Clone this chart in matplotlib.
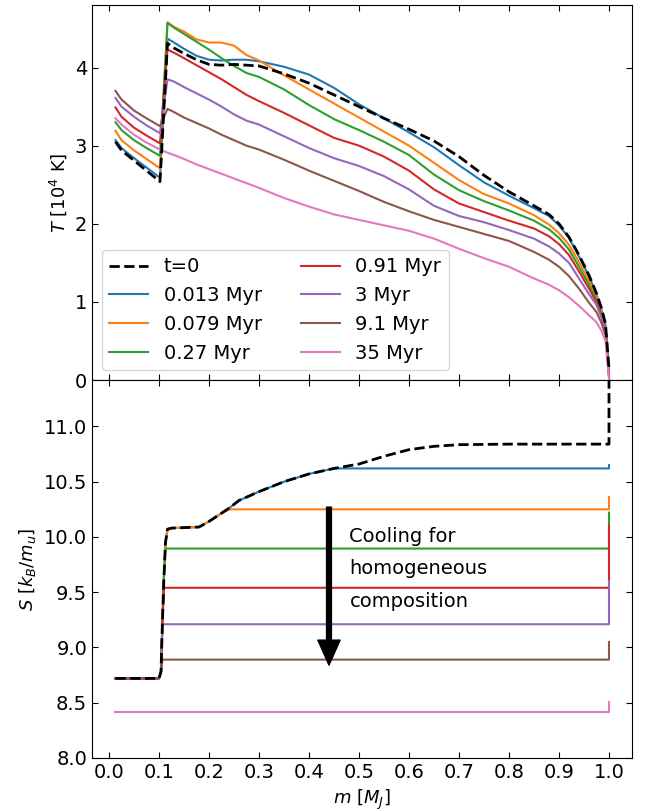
import matplotlib
matplotlib.use("Agg")
import matplotlib.pyplot as plt
import numpy as np

# ---- data ----
labels = ["0.013 Myr", "0.079 Myr", "0.27 Myr", "0.91 Myr", "3 Myr", "9.1 Myr", "35 Myr"]
colors = ["tab:blue", "tab:orange", "tab:green", "tab:red", "tab:purple", "tab:brown", "tab:pink"]

# temperature profiles, T in 10^4 K
m_T = [0.013, 0.025, 0.05, 0.075, 0.102,
       0.117, 0.13, 0.15, 0.175, 0.2, 0.225, 0.25, 0.275, 0.3,
       0.35, 0.4, 0.45, 0.5, 0.55, 0.6, 0.65,
       0.7, 0.75, 0.8,
       0.85, 0.88, 0.9, 0.92, 0.94, 0.96, 0.975, 0.985, 0.993, 1.0]

T_t0 = [3.05, 2.94, 2.81, 2.68, 2.54,
        4.31, 4.25, 4.18, 4.10, 4.04, 4.03, 4.04, 4.03, 4.02,
        3.92, 3.80, 3.65, 3.50, 3.35, 3.21, 3.06,
        2.86, 2.62, 2.41,
        2.23, 2.12, 2.00, 1.83, 1.60, 1.34, 1.11, 0.92, 0.72, 0.15]
T_0013 = [3.07, 2.97, 2.84, 2.72, 2.59,
          4.37, 4.32, 4.24, 4.15, 4.10, 4.09, 4.10, 4.10, 4.08,
          4.01, 3.91, 3.74, 3.53, 3.35, 3.17, 2.98,
          2.75, 2.53, 2.36,
          2.20, 2.10, 1.98, 1.82, 1.58, 1.33, 1.09, 0.90, 0.70, 0.10]
T_0079 = [3.19, 3.07, 2.94, 2.83, 2.71,
          4.58, 4.52, 4.46, 4.36, 4.32, 4.32, 4.28, 4.16, 4.09,
          3.90, 3.72, 3.54, 3.36, 3.18, 3.00, 2.78,
          2.56, 2.38, 2.26,
          2.11, 1.99, 1.88, 1.73, 1.51, 1.27, 1.06, 0.88, 0.68, 0.08]
T_027 = [3.30, 3.20, 3.07, 2.97, 2.87,
         4.57, 4.51, 4.43, 4.33, 4.23, 4.12, 4.02, 3.93, 3.88,
         3.72, 3.52, 3.34, 3.20, 3.05, 2.88, 2.63,
         2.43, 2.29, 2.17,
         2.04, 1.93, 1.82, 1.67, 1.45, 1.22, 1.02, 0.85, 0.66, 0.07]
T_091 = [3.49, 3.37, 3.23, 3.13, 3.03,
         4.23, 4.19, 4.12, 4.03, 3.94, 3.85, 3.75, 3.65, 3.57,
         3.42, 3.26, 3.10, 3.00, 2.86, 2.68, 2.44,
         2.26, 2.15, 2.04,
         1.94, 1.84, 1.74, 1.60, 1.39, 1.17, 1.00, 0.83, 0.65, 0.06]
T_3 = [3.61, 3.50, 3.37, 3.26, 3.16,
       3.85, 3.82, 3.75, 3.67, 3.59, 3.50, 3.40, 3.32, 3.27,
       3.12, 2.97, 2.84, 2.74, 2.61, 2.44, 2.23,
       2.10, 2.02, 1.92,
       1.81, 1.71, 1.62, 1.50, 1.30, 1.10, 0.96, 0.80, 0.63, 0.05]
T_91 = [3.70, 3.59, 3.45, 3.35, 3.25,
        3.47, 3.43, 3.36, 3.29, 3.22, 3.14, 3.07, 3.00, 2.95,
        2.82, 2.68, 2.55, 2.42, 2.28, 2.16, 2.05,
        1.96, 1.87, 1.78,
        1.64, 1.54, 1.45, 1.33, 1.17, 0.99, 0.87, 0.73, 0.58, 0.04]
T_35 = [3.35, 3.27, 3.14, 3.04, 2.95,
        2.91, 2.88, 2.83, 2.76, 2.70, 2.64, 2.58, 2.52, 2.46,
        2.33, 2.22, 2.12, 2.05, 1.98, 1.91, 1.81,
        1.68, 1.56, 1.45,
        1.30, 1.22, 1.15, 1.06, 0.95, 0.83, 0.74, 0.63, 0.50, 0.02]
T_list = [T_0013, T_0079, T_027, T_091, T_3, T_91, T_35]

# entropy, S in k_B/m_u
m_S0 = [0.013, 0.100, 0.104, 0.107, 0.110, 0.113, 0.117, 0.125, 0.18, 0.20, 0.22,
        0.24, 0.26, 0.30, 0.35, 0.40, 0.45, 0.50, 0.55, 0.60, 0.65, 0.70, 0.80,
        0.90, 1.0, 1.0]
S_t0 = [8.72, 8.72, 8.78, 9.25, 9.65, 9.95, 10.07, 10.08, 10.09, 10.14, 10.20,
        10.26, 10.33, 10.41, 10.50, 10.57, 10.62, 10.66, 10.73, 10.79, 10.82, 10.835, 10.84,
        10.84, 10.84, 11.6]
# adiabat level reached by each snapshot, and value at the surface point
S_level = [10.62, 10.25, 9.895, 9.54, 9.21, 8.89, 8.415]
S_surf = [10.65, 10.36, 10.22, 10.10, 9.60, 9.05, 8.51]

#######################################################################

fig = plt.figure(figsize=(6.51, 8.11), dpi=100)
ax1 = fig.add_axes([0.1413, 0.5314, 0.8295, 0.4624])
ax2 = fig.add_axes([0.1413, 0.0654, 0.8295, 0.4660], sharex=ax1)

# top: temperature
ax1.plot(m_T, T_t0, "k--", lw=2, label="t=0", zorder=5)
for T, c, lab in zip(T_list, colors, labels):
	ax1.plot(m_T, T, color=c, lw=1.5, label=lab)
ax1.set_ylim(0, 4.8)
ax1.set_yticks([0, 1, 2, 3, 4])
ax1.set_ylabel(r"$T$ [$10^4$ K]", fontsize=13)
ax1.legend(loc="lower left", ncol=2, fontsize=14)
ax1.tick_params(labelbottom=False)

# bottom: entropy
m_S0 = np.array(m_S0)
S_t0 = np.array(S_t0)
for lev, surf, c in zip(S_level, S_surf, colors):
	m_line = np.append(m_S0[:-1], 1.0)
	S_line = np.append(np.minimum(S_t0[:-1], lev), surf)
	ax2.plot(m_line, S_line, color=c, lw=1.5)
ax2.plot(m_S0, S_t0, "k--", lw=2, zorder=5)

ax2.annotate("", xy=(0.44, 8.84), xytext=(0.44, 10.27),
	arrowprops=dict(facecolor="black", edgecolor="black", width=3.5, headwidth=16, headlength=18, shrink=0))
ax2.text(0.481, 9.71, "Cooling for\nhomogeneous\ncomposition", fontsize=14,
	ha="left", va="center", linespacing=1.9)

ax2.set_ylim(8.0, 11.42)
ax2.set_yticks(np.arange(8.0, 11.01, 0.5))
ax2.yaxis.set_major_formatter(matplotlib.ticker.FormatStrFormatter("%.1f"))
ax2.set_xticks(np.arange(0, 1.01, 0.1))
ax2.xaxis.set_major_formatter(matplotlib.ticker.FormatStrFormatter("%.1f"))
ax2.set_xlim(-0.034, 1.046)
ax2.set_ylabel(r"$S$ [$k_B/m_u$]", fontsize=13)
ax2.set_xlabel(r"$m$ [$M_J$]", fontsize=13)

for ax in (ax1, ax2):
	ax.tick_params(direction="in", top=True, right=True, labelsize=14, length=4)

fig.savefig("out.png", dpi=100)
